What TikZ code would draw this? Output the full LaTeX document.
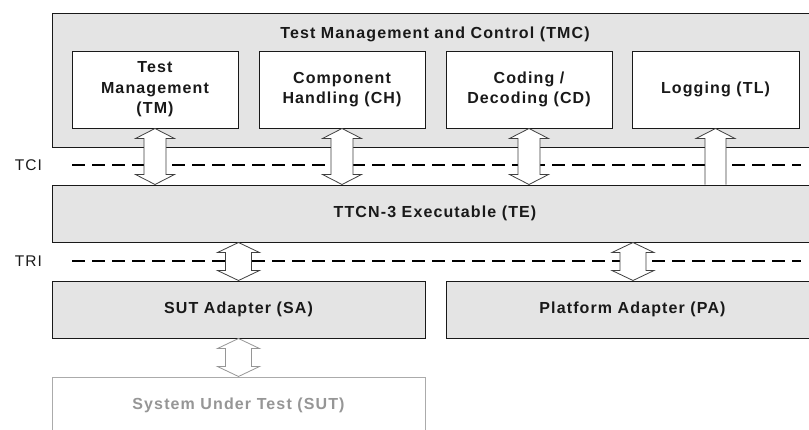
\documentclass[tikz,border=0pt]{standalone}
\usepackage{fontspec}
\setmainfont{Liberation Sans}[LetterSpace=7]
\usetikzlibrary{calc}
\definecolor{boxgray}{RGB}{228,228,228}
\definecolor{inkc}{RGB}{25,25,25}
\definecolor{sutgray}{RGB}{150,150,150}
\tikzset{
  grayblock/.style={draw=inkc, line width=1pt, fill=boxgray, inner sep=0pt},
  whiteblock/.style={draw=inkc, line width=1pt, fill=white, inner sep=0pt, align=center,
    font=\fontsize{16}{20.5}\selectfont\bfseries, text=inkc},
  blocktext/.style={font=\fontsize{16}{20.5}\selectfont\bfseries, text=inkc},
  sutblock/.style={draw=sutgray!80, line width=1pt, fill=white, inner sep=0pt,
    font=\fontsize{16}{20.5}\selectfont\bfseries, text=sutgray},
  ifline/.style={line width=2.6pt, dash pattern=on 13pt off 7pt, draw=black},
  iflabel/.style={font=\fontsize{15.5}{17}\selectfont, text=inkc},
  arrowshape/.style={draw=black!75, line width=0.8pt, fill=white, line join=miter},
  sutarrow/.style={draw=sutgray, line width=0.8pt, fill=white, line join=miter},
}
% double block arrow from top point #2 to bottom point #3, half shaft #4, half head #5, head length #6
\newcommand\blockdarrow[6][arrowshape]{%
  \draw[#1] let \p1=#2, \p2=#3 in
    (\x1,\y1) -- (\x1+#5,\y1-#6) -- (\x1+#4,\y1-#6) -- (\x1+#4,\y2+#6) -- (\x1+#5,\y2+#6)
    -- (\x1,\y2) -- (\x1-#5,\y2+#6) -- (\x1-#4,\y2+#6) -- (\x1-#4,\y1-#6) -- (\x1-#5,\y1-#6) -- cycle;}
\newcommand\blockuparrow[6][arrowshape]{%
  \draw[#1] let \p1=#2, \p2=#3 in
    (\x1-#4,\y2) -- (\x1-#4,\y1-#6) -- (\x1-#5,\y1-#6) -- (\x1,\y1) -- (\x1+#5,\y1-#6)
    -- (\x1+#4,\y1-#6) -- (\x1+#4,\y2);}
\begin{document}
\begin{tikzpicture}[x=1pt,y=1pt]
\useasboundingbox (0,0) rectangle (809,-429);
% TMC
\node[grayblock, minimum width=766pt, minimum height=134pt] (tmc) at (435,-80) {};
\node[blocktext, anchor=base] (tmctitle) at (435,-38) {Test Management and Control (TMC)};
\node[whiteblock, minimum width=166pt, minimum height=77pt] (tm) at (155,-89.5) {Test\\Management\\(TM)};
\node[whiteblock, minimum width=166pt, minimum height=77pt] (ch) at (342,-89.5) {Component\\Handling (CH)};
\node[whiteblock, minimum width=166pt, minimum height=77pt] (cd) at (529,-89.5) {Coding /\\Decoding (CD)};
\node[whiteblock, minimum width=167pt, minimum height=77pt] (tl) at (715.5,-89.5) {Logging (TL)};
% TE
\node[grayblock, minimum width=766pt, minimum height=57pt, blocktext] (te) at (435,-213.5) {TTCN-3 Executable (TE)};
% SA, PA
\node[grayblock, minimum width=373pt, minimum height=57pt, blocktext] (sa) at (238.5,-309.5) {SUT Adapter (SA)};
\node[grayblock, minimum width=373pt, minimum height=57pt, blocktext] (pa) at (632.5,-309.5) {Platform Adapter (PA)};
% SUT
\node[sutblock, minimum width=373pt, minimum height=56pt] (sut) at (238.5,-405) {System Under Test (SUT)};
% interface lines
\node[iflabel] (tci) at (28.5,-165) {TCI};
\node[iflabel] (tri) at (28.5,-261) {TRI};
\coordinate (tciend) at (801,-165);
\coordinate (triend) at (801,-261);
\draw[ifline] (72,-165) -- (tciend);
\draw[ifline] (72,-261) -- (triend);
% TCI arrows
\blockdarrow{(tm.south)}{(tm.south |- te.north)}{11}{19.5}{10}
\blockdarrow{(ch.south)}{(ch.south |- te.north)}{11}{19.5}{10}
\blockdarrow{(cd.south)}{(cd.south |- te.north)}{11}{19.5}{10}
\blockuparrow{(tl.south)}{(tl.south |- te.north)}{10.5}{19.5}{10}
% TRI arrows
\coordinate (paarr) at (633,0);
\blockdarrow{(sa.north |- te.south)}{(sa.north)}{13}{21}{10}
\blockdarrow{(paarr |- te.south)}{(paarr |- pa.north)}{13}{21}{10}
\blockdarrow[sutarrow]{(sa.south)}{(sut.north)}{13}{21}{10}
\end{tikzpicture}
\end{document}
